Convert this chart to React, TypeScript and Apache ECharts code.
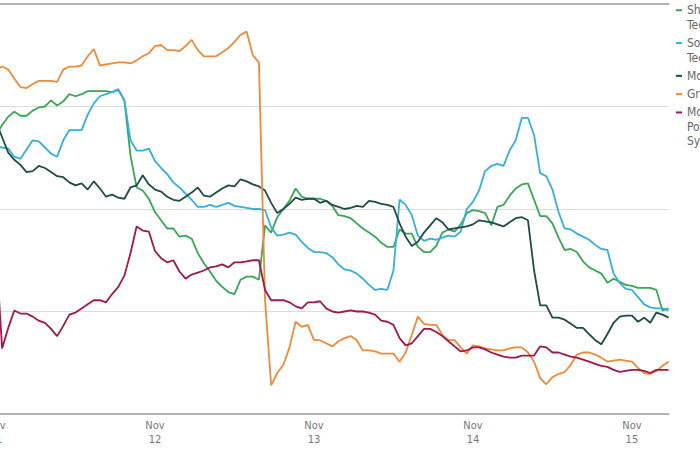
import React, { useEffect, useRef } from "react";
import * as echarts from "echarts";

const dayLabels = ["Nov\n11", "Nov\n12", "Nov\n13", "Nov\n14", "Nov\n15"];
const pointsPerDay = 26;

const seriesNames = [
  "Shoals Technologies",
  "SolarEdge Technologies",
  "Moderna",
  "Groupon",
  "Monolithic Power Systems",
];
const seriesColors = ["#3aa655", "#37aedb", "#1f4a46", "#ee8a3a", "#a1164f"];

const shoals = [
  7.2, 8.2, 9.0, 9.5, 9.1, 9.1, 9.6, 9.9, 10.0, 10.6, 10.1, 10.5, 11.2, 11.0, 11.2, 11.5, 11.5, 11.5, 11.5, 11.4,
  11.6, 10.6, 5.2, 2.1, 1.8, 1.0, -0.3, -1.1, -1.9, -1.9, -2.7, -2.6, -2.9, -4.3, -5.3, -6.1, -7.0, -7.6, -8.1, -8.3,
  -6.9, -6.6, -6.6, -6.9, -1.6, -2.3, -0.8, 0, 0.8, 2.0, 1.2, 1.0, 1.0, 1.0, 0.8, 0.3, -0.6, -0.7, -0.9, -1.4,
  -1.9, -2.3, -2.7, -3.3, -3.7, -3.7, -2.0, -2.4, -2.4, -3.7, -4.2, -4.2, -3.6, -2.3, -2.0, -2.2, -1.5, -0.4, -0.1, -0.2,
  -0.4, -1.6, 0.2, 0.4, 1.3, 2.0, 2.4, 2.5, 0.9, -0.7, -0.7, -1.4, -2.8, -4.0, -3.9, -4.2, -5.1, -5.7, -6.0, -6.3,
  -7.2, -6.8, -7.1, -7.4, -7.5, -7.7, -7.7, -7.7, -7.9, -9.9, -9.7,
];

const solaredge = [
  6.1, 6.0, 5.9, 5.1, 4.9, 5.8, 6.7, 6.6, 6.0, 5.4, 5.1, 6.7, 7.7, 7.7, 7.7, 9.2, 10.3, 11.0, 11.2, 11.4,
  11.7, 10.6, 6.7, 5.7, 5.7, 5.9, 4.7, 4.0, 3.4, 2.6, 2.1, 1.5, 0.9, 0.2, 0.2, 0.4, 0.2, 0.4, 0.6, 0.3,
  0.2, 0.1, 0, 0, -0.1, -1.8, -2.6, -2.5, -2.3, -2.5, -3.2, -3.8, -4.2, -4.2, -4.3, -4.7, -5.4, -5.9, -6.0, -6.3,
  -6.8, -7.4, -7.9, -7.8, -7.9, -6.0, 0.9, 0.4, -0.6, -2.6, -3.1, -2.9, -3.0, -2.8, -2.6, -2.7, -2.2, 0, 0.7, 1.8,
  3.7, 4.2, 4.4, 4.2, 5.7, 6.7, 8.9, 8.9, 7.2, 3.5, 3.2, 1.9, -0.3, -1.9, -2.0, -2.4, -2.7, -3.0, -3.5, -3.9,
  -4.0, -6.3, -7.2, -7.8, -7.9, -8.6, -9.3, -9.6, -9.7, -9.7, -9.9,
];

const moderna = [
  8.5, 7.0, 5.5, 4.8, 4.3, 3.6, 3.7, 4.2, 4.0, 3.6, 3.2, 3.1, 2.6, 2.3, 2.5, 1.9, 2.7, 2.0, 1.2, 1.4,
  1.1, 1.0, 2.1, 2.3, 3.3, 2.4, 1.9, 1.7, 1.2, 0.9, 0.8, 1.2, 1.6, 2.1, 1.3, 1.2, 1.6, 2.0, 2.3, 2.2,
  2.9, 2.7, 2.4, 2.2, 1.8, 0.6, -0.4, 0, 0.5, 1.1, 0.9, 1.0, 1.0, 0.6, 0.8, 0.4, 0.2, 0, 0.1, 0.3,
  0.2, 0.8, 0.7, 0.5, 0.4, 0.2, -1.4, -2.7, -3.6, -3.2, -2.3, -1.6, -0.9, -1.3, -2.0, -1.9, -1.8, -1.7, -1.5, -1.1,
  -1.2, -1.3, -1.5, -1.7, -1.3, -0.9, -0.8, -1.1, -6.0, -9.4, -9.4, -10.6, -10.6, -10.8, -11.2, -11.6, -11.6, -12.2, -12.8, -13.2,
  -12.2, -11.1, -10.5, -10.4, -10.4, -11.0, -10.6, -11.1, -10.1, -10.3, -10.6,
];

const groupon = [
  13.6, 13.9, 13.6, 12.7, 11.9, 11.8, 12.2, 12.5, 12.5, 12.5, 12.4, 13.6, 13.9, 13.9, 14.0, 14.9, 15.6, 14.0, 14.1, 14.2,
  14.3, 14.3, 14.2, 14.5, 14.9, 15.2, 15.9, 16.0, 15.5, 15.5, 15.4, 15.9, 16.5, 15.5, 14.9, 14.9, 14.9, 15.3, 15.7, 16.3,
  17.0, 17.3, 15.0, 14.3, -8.9, -17.2, -16.0, -15.2, -13.5, -11.0, -11.5, -11.3, -12.8, -12.8, -13.1, -13.4, -12.9, -12.6, -12.4, -12.8,
  -13.8, -13.8, -13.9, -14.1, -14.1, -14.1, -14.9, -14.0, -12.3, -10.5, -11.2, -11.3, -11.3, -12.3, -12.8, -12.8, -13.5, -14.1, -13.3, -13.4,
  -13.6, -13.7, -13.8, -13.8, -13.6, -13.5, -13.5, -14.0, -14.9, -16.5, -17.1, -16.4, -16.1, -15.9, -15.2, -14.2, -14.0, -14.0, -14.2, -14.5,
  -14.9, -14.8, -14.7, -14.8, -14.9, -15.5, -16.0, -16.1, -15.8, -15.3, -14.9,
];

const monolithic = [
  -4.0, -13.6, -11.6, -9.9, -10.2, -10.2, -10.5, -10.9, -11.1, -11.7, -12.4, -11.4, -10.3, -10.1, -9.7, -9.3, -8.9, -8.9, -9.1, -8.3,
  -7.6, -6.5, -4.3, -1.7, -2.1, -2.2, -4.1, -4.8, -5.2, -5.0, -6.1, -6.8, -6.4, -6.2, -6.0, -5.7, -5.6, -5.4, -5.7, -5.2,
  -5.2, -5.1, -5.0, -5.0, -7.9, -8.9, -8.9, -8.9, -9.1, -9.5, -9.7, -9.1, -9.1, -9.0, -9.7, -10.0, -10.1, -10.0, -9.9, -10.0,
  -10.0, -10.1, -10.3, -10.9, -11.0, -11.3, -12.6, -13.3, -13.1, -12.4, -11.7, -11.7, -12.0, -12.4, -12.9, -13.4, -13.9, -13.8, -13.5, -13.5,
  -13.7, -14.0, -14.2, -14.4, -14.5, -14.5, -14.3, -14.3, -14.3, -13.4, -13.5, -14.0, -14.0, -14.2, -14.4, -14.5, -14.7, -14.9, -15.1, -15.3,
  -15.4, -15.7, -15.9, -15.8, -15.7, -15.7, -15.8, -16.0, -15.7, -15.7, -15.7,
];

const seriesData = [shoals, solaredge, moderna, groupon, monolithic];

const FONT = "'Liberation Sans Narrow', 'DejaVu Sans Condensed', 'Roboto', sans-serif";

export default function App() {
  const ref = useRef<HTMLDivElement>(null);

  useEffect(() => {
    if (!ref.current) return;
    const chart = echarts.init(ref.current, null, { renderer: "svg" });
    const n = shoals.length;
    const categories = Array.from({ length: n }, (_, i) => String(i));

    const legendEls: any[] = [];
    let top = 3;
    const lineH = 14.5;
    seriesNames.forEach((name, k) => {
      const words = name.split(" ");
      legendEls.push({
        type: "rect",
        left: 676,
        top: top + lineH / 2 - 1,
        shape: { width: 6, height: 2 },
        style: { fill: seriesColors[k] },
        silent: true,
      });
      legendEls.push({
        type: "text",
        left: 687,
        top: top,
        style: {
          text: words.join("\n"),
          fill: "#666",
          fontSize: 12,
          lineHeight: lineH,
          fontFamily: FONT,
        },
        silent: true,
      });
      top += words.length * lineH + 3.8;
    });

    chart.setOption({
      animation: false,
      backgroundColor: "#fff",
      textStyle: { fontFamily: FONT },
      grid: {
        left: -4,
        right: 31.4,
        top: 4,
        bottom: 36,
        containLabel: false,
        outerBoundsMode: "none",
      },
      xAxis: [
        {
          type: "category",
          data: categories,
          boundaryGap: false,
          axisLine: { show: true, onZero: false, lineStyle: { color: "#b4b4b4", width: 2 } },
          axisTick: { show: false },
          axisLabel: {
            interval: (idx: number) => idx % pointsPerDay === 0,
            formatter: (_v: string, idx: number) => dayLabels[Math.round(idx / pointsPerDay)] ?? "",
            color: "#777",
            fontSize: 11,
            lineHeight: 14,
            margin: 4,
            fontFamily: FONT,
          },
          splitLine: { show: false },
        },
        {
          type: "category",
          data: categories,
          position: "top",
          boundaryGap: false,
          axisLine: { show: true, onZero: false, lineStyle: { color: "#b4b4b4", width: 2 } },
          axisTick: { show: false },
          axisLabel: { show: false },
        },
      ],
      yAxis: {
        type: "value",
        min: -20,
        max: 20,
        interval: 10,
        axisLabel: { show: false },
        axisLine: { show: false },
        axisTick: { show: false },
        splitLine: { lineStyle: { color: "#dcdcdc", width: 1 } },
      },
      series: seriesNames.map((name, k) => ({
        name,
        type: "line",
        data: seriesData[k],
        showSymbol: false,
        symbol: "none",
        lineStyle: { color: seriesColors[k], width: 1.8 },
        itemStyle: { color: seriesColors[k] },
      })),
      graphic: legendEls,
    });

    return () => chart.dispose();
  }, []);

  return (
    <div
      ref={ref}
      style={{ position: "absolute", left: 0, top: 0, width: 700, height: 450 }}
    />
  );
}
